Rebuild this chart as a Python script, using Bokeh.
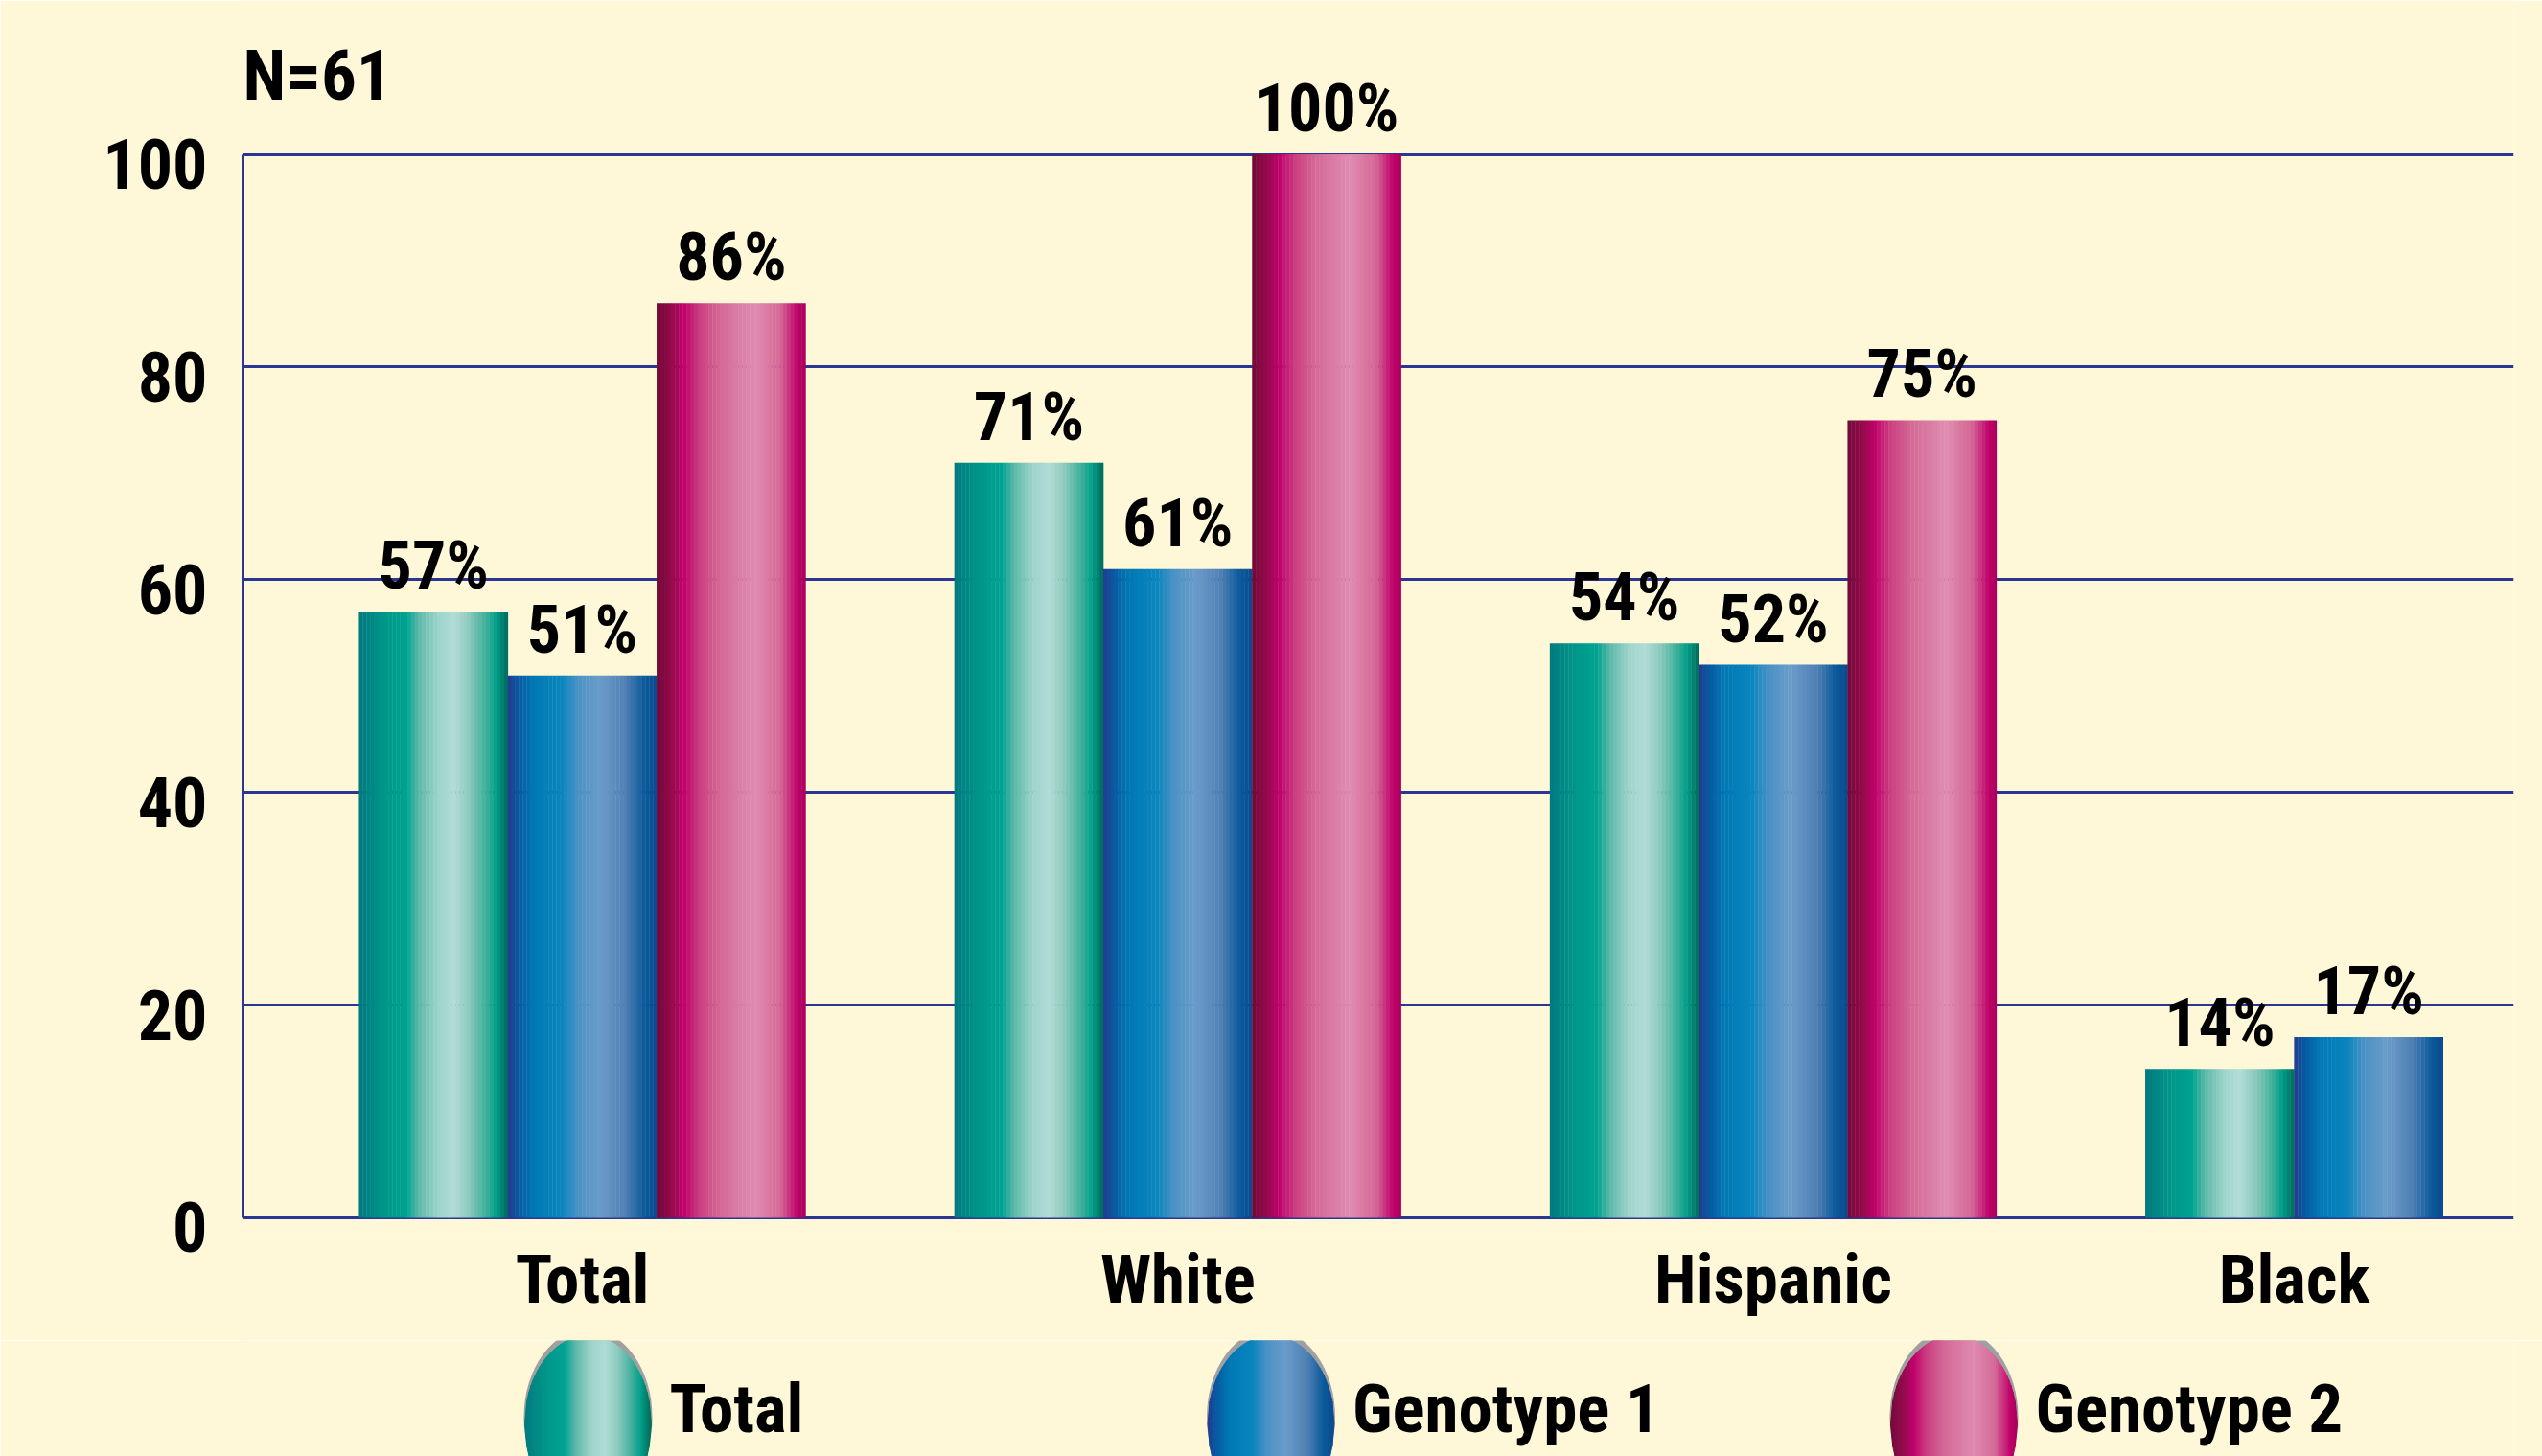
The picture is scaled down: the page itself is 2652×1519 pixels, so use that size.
import numpy as np
from bokeh.plotting import figure
from bokeh.models import Range1d, FixedTicker, Label, LinearAxis
from bokeh.layouts import column
from bokeh.embed import file_html
from bokeh.resources import INLINE
from bokeh.core.properties import value

# ---------------- data ----------------
categories = ["Total", "White", "Hispanic", "Black"]
series = ["Total", "Genotype 1", "Genotype 2"]
total_pct = [57, 71, 54, 14]
genotype1_pct = [51, 61, 52, 17]
genotype2_pct = [86, 100, 75, None]
y_ticks = [0, 20, 40, 60, 80, 100]
n_label = "N=61"

# ---------------- style ----------------
FONT = "'Roboto Condensed', 'Archivo Narrow', sans-serif"
BG = "#fef8d8"
NAVY = "#2b3592"

GRADS = [
    [(0.0, "#007a80"), (0.17, "#00968a"), (0.32, "#00a392"), (0.40, "#5cb8a8"),
     (0.53, "#9ed4cc"), (0.64, "#b0dcd6"), (0.74, "#8ccabd"), (0.85, "#40b09c"),
     (0.92, "#00a08a"), (1.0, "#006a5a")],
    [(0.0, "#243a90"), (0.06, "#0a56a0"), (0.17, "#0078b4"), (0.36, "#0a86be"),
     (0.47, "#4a92c6"), (0.62, "#6a9cca"), (0.79, "#5080b4"), (0.92, "#0a5a9c"),
     (1.0, "#0a4a90")],
    [(0.0, "#700a38"), (0.12, "#9c0a50"), (0.18, "#c0006c"), (0.29, "#cc4080"),
     (0.44, "#d46c98"), (0.66, "#e08cb0"), (0.83, "#d46896"), (0.95, "#c0006a"),
     (1.0, "#a8005a")],
]


def _rgb(h):
    h = h.lstrip("#")
    return [int(h[i:i + 2], 16) for i in (0, 2, 4)]


def gradient(stops, fracs):
    pos = [s[0] for s in stops]
    chans = np.array([_rgb(s[1]) for s in stops], dtype=float)
    out = []
    for f in fracs:
        c = [int(round(np.interp(f, pos, chans[:, i]))) for i in range(3)]
        out.append("#%02x%02x%02x" % tuple(c))
    return out


series_vals = [total_pct, genotype1_pct, genotype2_pct]
GROUP = 4          # slots per category group (3 bars + gap)
NSTRIP = 40

# layout (pixels)
W, H_MAIN, H_LEG = 2652, 1398, 121
FRAME_L, FRAME_R = 253, 30
Y0_PX = 1270                      # canvas row of the value 0
FRAME_H = 1290                    # frame reaches a little below 0
FRAME_B = H_MAIN - FRAME_H
PX_PER_UNIT = 11.095
Y_TOP = Y0_PX / PX_PER_UNIT
Y_BOT = (FRAME_H - Y0_PX) / PX_PER_UNIT
X0 = -0.78
X1 = X0 + (W - FRAME_L - FRAME_R) / 155.3
LABEL_GAP = 48 / PX_PER_UNIT       # centre of value label above bar top
YLAB_SHIFT = 0.9

# ---------------- main chart ----------------
p = figure(width=W, height=H_MAIN,
           x_range=Range1d(X0, X1), y_range=Range1d(-Y_BOT, Y_TOP),
           output_backend="svg", toolbar_location=None,
           min_border_left=FRAME_L, min_border_right=FRAME_R,
           min_border_top=0, min_border_bottom=FRAME_B)
p.background_fill_color = BG
p.border_fill_color = BG
p.outline_line_color = None

p.xgrid.visible = False
p.ygrid.ticker = FixedTicker(ticks=y_ticks)
p.ygrid.grid_line_color = NAVY
p.ygrid.grid_line_width = 3

fr = (np.arange(NSTRIP) + 0.5) / NSTRIP
label_x, label_y, label_t = [], [], []
for si, vals in enumerate(series_vals):
    cols = gradient(GRADS[si], fr)
    xs, tops, cs = [], [], []
    for gi, v in enumerate(vals):
        if v is None:
            continue
        left = gi * GROUP + si
        for k in range(NSTRIP):
            xs.append(left + fr[k])
            tops.append(v)
            cs.append(cols[k])
        label_x.append(left + 0.5)
        label_y.append(v + LABEL_GAP)
        label_t.append(f"{v}%")
    p.vbar(x=xs, top=tops, bottom=0, width=1.1 / NSTRIP,
           fill_color=cs, line_color=None)

p.text(x=label_x, y=label_y, text=label_t, text_align="center",
       text_baseline="middle",
       text_font=value(FONT), text_font_size="70px", text_font_style="bold",
       text_color="black")

p.add_layout(Label(x=X0, y=107.4, text=n_label, text_font=FONT,
                   text_font_size="73px", text_font_style="bold",
                   text_color="black", text_baseline="middle"))

# y axis: line only (0..100)
yline = p.yaxis[0]
yline.ticker = FixedTicker(ticks=[])
yline.bounds = (0, 100)
yline.axis_line_color = NAVY
yline.axis_line_width = 3
yline.major_tick_line_color = None
yline.minor_tick_line_color = None
yline.major_tick_out = 0
yline.major_tick_in = 0
yline.major_label_standoff = 0

# y axis: labels
ylab_ticks = [t - YLAB_SHIFT for t in y_ticks]
ylab_over = {}
for tk, t in zip(ylab_ticks, y_ticks):
    ylab_over[tk] = str(t)
    ylab_over["%g" % tk] = str(t)
    ylab_over[str(tk)] = str(t)
ylab = LinearAxis(ticker=FixedTicker(ticks=ylab_ticks),
                  major_label_overrides=ylab_over,
                  axis_line_color=None, major_tick_line_color=None,
                  minor_tick_line_color=None, major_tick_out=0, major_tick_in=0,
                  major_label_standoff=37, major_label_text_font=FONT,
                  major_label_text_font_size="72px",
                  major_label_text_font_style="bold",
                  major_label_text_color="black")
p.add_layout(ylab, "left")

centers = []
overrides = {}
for gi, cat in enumerate(categories):
    nb = sum(1 for vals in series_vals if vals[gi] is not None)
    c = gi * GROUP + nb / 2
    centers.append(c)
    overrides[c] = cat
    overrides[str(c)] = cat
    overrides["%g" % c] = cat

xax = p.xaxis[0]
xax.ticker = FixedTicker(ticks=centers)
xax.major_label_overrides = overrides
xax.axis_line_color = None
xax.major_tick_line_color = None
xax.minor_tick_line_color = None
xax.major_tick_out = 0
xax.major_tick_in = 0
xax.major_label_standoff = 22 - (FRAME_H - Y0_PX)
xax.major_label_text_font = FONT
xax.major_label_text_font_size = "71px"
xax.major_label_text_font_style = "bold"
xax.major_label_text_color = "black"

# ---------------- legend strip (x in page pixels) ----------------
lg = figure(width=W, height=H_LEG, x_range=Range1d(FRAME_L, W - FRAME_R),
            y_range=Range1d(0, H_LEG),
            output_backend="svg", toolbar_location=None,
            x_axis_location=None, y_axis_location=None,
            min_border_left=FRAME_L, min_border_right=FRAME_R,
            min_border_top=0, min_border_bottom=0)
lg.background_fill_color = BG
lg.border_fill_color = BG
lg.outline_line_color = None
lg.grid.visible = False

LX0, LDX, A, H, CY = 613, 712.5, 66, 92, 34
NE = 60
for si, name in enumerate(series):
    cx = LX0 + si * LDX
    lg.ellipse(x=[cx], y=[CY + 7], width=[2 * A + 2], height=[2 * H],
               fill_color="#a0a0a0", line_color=None)
    edges = np.linspace(-A, A, NE + 1)
    cols = gradient(GRADS[si], (np.arange(NE) + 0.5) / NE)
    pxs, pys = [], []
    for k in range(NE):
        x0, x1 = edges[k], edges[k + 1]
        h0 = H * np.sqrt(max(0.0, 1 - (x0 / A) ** 2))
        h1 = H * np.sqrt(max(0.0, 1 - (x1 / A) ** 2))
        pxs.append([cx + x0, cx + x0, cx + x1, cx + x1])
        pys.append([CY - h0, CY + h0, CY + h1, CY - h1])
    lg.patches(xs=pxs, ys=pys, fill_color=cols, line_color=cols, line_width=1)
    lg.text(x=[cx + A + 19], y=[50.5], text=[name], text_align="left",
            text_baseline="middle", text_font=value(FONT),
            text_font_size="71px", text_font_style="bold", text_color="black")

layout = column(p, lg, spacing=0)
open("out.html", "w").write(file_html(layout, INLINE))
